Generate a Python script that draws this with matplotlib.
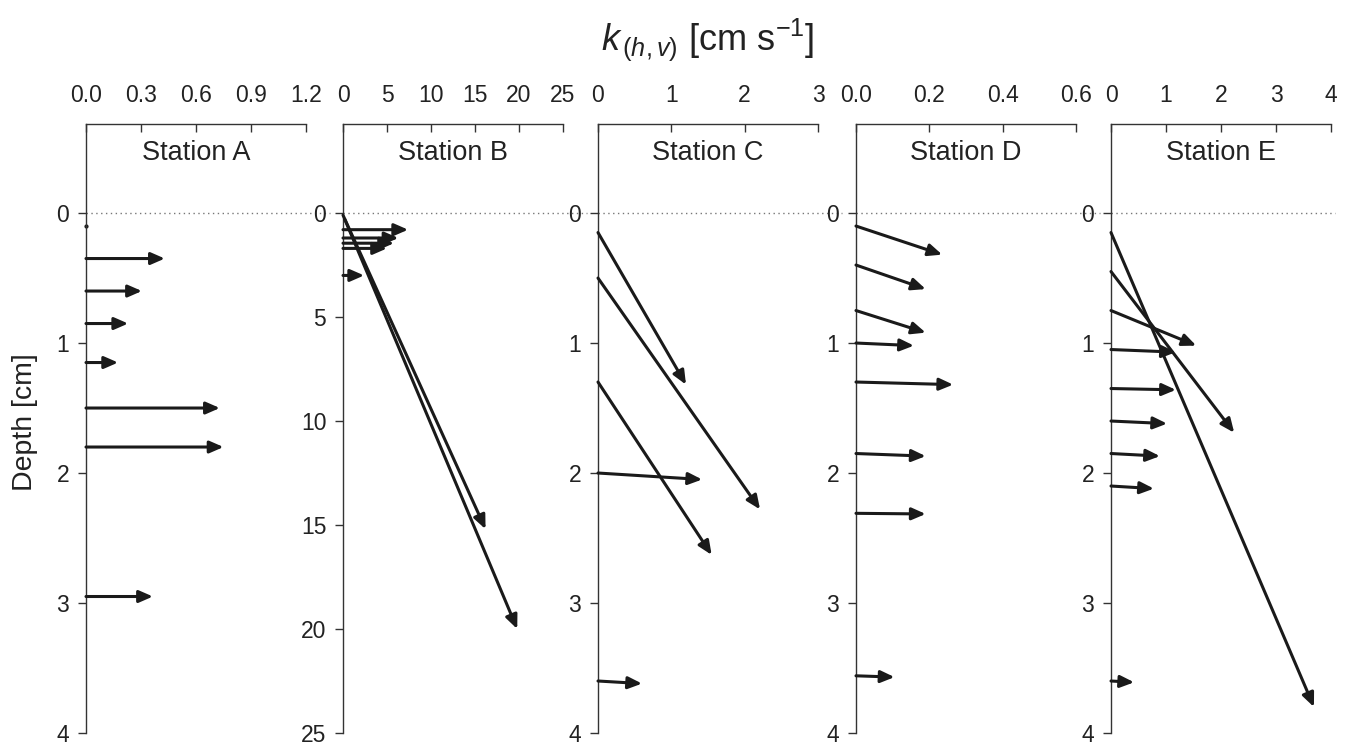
import matplotlib.pyplot as plt

plt.rcParams['font.family'] = ['Liberation Sans', 'DejaVu Sans']
plt.rcParams['mathtext.fontset'] = 'custom'
plt.rcParams['mathtext.rm'] = 'Liberation Sans'
plt.rcParams['mathtext.it'] = 'Liberation Sans:italic'

# station data: arrow start (x0, d0) and end (x1, d1), k in cm/s, depth in cm
stations = ['Station A', 'Station B', 'Station C', 'Station D', 'Station E']

a_x0 = [0, 0, 0, 0, 0, 0, 0, 0]
a_d0 = [0.10, 0.35, 0.60, 0.85, 1.15, 1.50, 1.80, 2.95]
a_x1 = [0, 0.43, 0.305, 0.23, 0.175, 0.73, 0.75, 0.365]
a_d1 = [0.10, 0.35, 0.60, 0.85, 1.15, 1.50, 1.80, 2.95]

b_x0 = [0, 0, 0, 0, 0, 0, 0.2]
b_d0 = [0.8, 1.2, 1.45, 1.7, 3.0, 0.1, 0.3]
b_x1 = [7.4, 6.3, 5.8, 5.0, 2.4, 16.2, 19.8]
b_d1 = [0.8, 1.2, 1.45, 1.7, 3.0, 15.2, 20.0]

c_x0 = [0, 0, 0, 0, 0]
c_d0 = [0.15, 0.50, 1.30, 2.00, 3.60]
c_x1 = [1.20, 2.21, 1.55, 1.42, 0.60]
c_d1 = [1.32, 2.28, 2.63, 2.05, 3.62]

d_x0 = [0, 0, 0, 0, 0, 0, 0, 0]
d_d0 = [0.10, 0.40, 0.75, 1.00, 1.30, 1.85, 2.31, 3.56]
d_x1 = [0.235, 0.19, 0.19, 0.158, 0.265, 0.19, 0.19, 0.105]
d_d1 = [0.32, 0.585, 0.92, 1.02, 1.32, 1.87, 2.315, 3.57]

e_x0 = [0, 0, 0, 0, 0, 0, 0, 0, 0]
e_d0 = [0.15, 0.45, 0.75, 1.05, 1.35, 1.60, 1.85, 2.10, 3.60]
e_x1 = [3.69, 2.24, 1.55, 1.18, 1.18, 1.02, 0.89, 0.78, 0.42]
e_d1 = [3.80, 1.69, 1.02, 1.07, 1.36, 1.62, 1.87, 2.12, 3.61]

arrows = [(a_x0, a_d0, a_x1, a_d1), (b_x0, b_d0, b_x1, b_d1),
          (c_x0, c_d0, c_x1, c_d1), (d_x0, d_d0, d_x1, d_d1),
          (e_x0, e_d0, e_x1, e_d1)]

xmax = [1.2, 25, 3, 0.6, 4]
xticks = [[0, 0.3, 0.6, 0.9, 1.2], [0, 5, 10, 15, 20, 25], [0, 1, 2, 3],
          [0, 0.2, 0.4, 0.6], [0, 1, 2, 3, 4]]
xfmt = ['%.1f', '%d', '%d', '%.1f', '%d']
dmax = [4, 25, 4, 4, 4]
dticks = [[0, 1, 2, 3, 4], [0, 5, 10, 15, 20, 25], [0, 1, 2, 3, 4],
          [0, 1, 2, 3, 4], [0, 1, 2, 3, 4]]

W, H = 1346, 745
fig = plt.figure(figsize=(W / 100, H / 100), dpi=100)
lefts = [86, 343, 598, 856, 1111]
ax_w = 220
ax_top, ax_bot = 124, 733
col = '#1a1a1a'

for i in range(5):
    ax = fig.add_axes([lefts[i] / W, (H - ax_bot) / H, ax_w / W, (ax_bot - ax_top) / H])
    sc = dmax[i] / 4
    ax.set_xlim(0, xmax[i])
    ax.set_ylim(dmax[i], -0.685 * sc)
    for s in ['right', 'bottom']:
        ax.spines[s].set_visible(False)
    for s in ['left', 'top']:
        ax.spines[s].set_color('#333333')
        ax.spines[s].set_linewidth(1.0)
    ax.xaxis.tick_top()
    ax.set_xticks(xticks[i])
    ax.set_xticklabels([xfmt[i] % v for v in xticks[i]])
    ax.set_yticks(dticks[i])
    ax.tick_params(axis='x', direction='in', length=6, width=1, pad=12,
                   labelsize=16.5, colors='#333333', labelcolor='#222222')
    ax.tick_params(axis='y', direction='out', length=6, width=1, pad=6,
                   labelsize=16.5, colors='#333333', labelcolor='#222222')
    ax.patch.set_visible(False)

    ext = 1.11 if i < 4 else 1.02
    ax.plot([0, xmax[i] * ext], [0, 0], ls=(0, (1, 2.5)), lw=1, color='#777777',
            clip_on=False, zorder=1)

    ax.text(xmax[i] * 0.5, -0.46 * sc, stations[i], ha='center', va='center',
            fontsize=19.5, color='#222222')

    x0, d0, x1, d1 = arrows[i]
    for j in range(len(x0)):
        if x1[j] == x0[j] and d1[j] == d0[j]:
            ax.plot(x0[j], d0[j], 'o', ms=2, color=col, clip_on=False)
            continue
        ax.annotate('', xy=(x1[j], d1[j]), xytext=(x0[j], d0[j]),
                    arrowprops=dict(arrowstyle='-|>,head_length=0.55,head_width=0.24',
                                    color=col, lw=2.2, shrinkA=0, shrinkB=0,
                                    mutation_scale=15),
                    annotation_clip=False)

fig.text(708 / W, 1 - 40 / H, r'$\mathit{k}_{\,\mathit{(h,v)}}$ [cm s$^{-1}$]',
         ha='center', va='center', fontsize=26, color='#222222')
fig.text(25 / W, 1 - 422 / H, 'Depth [cm]', rotation=90, ha='center', va='center',
         fontsize=20.5, color='#222222')

fig.savefig('out.png', dpi=100)
